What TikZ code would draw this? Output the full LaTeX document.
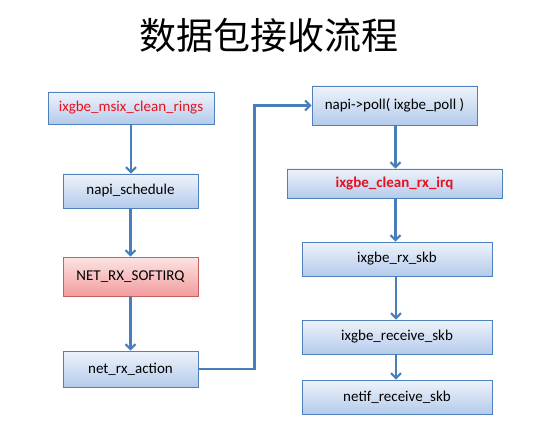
\documentclass[tikz,border=0pt]{standalone}
\usepackage{fontspec}
\setmainfont{Carlito}
\newfontfamily\cjk{Noto Sans CJK SC}
\usetikzlibrary{arrows.meta,shadows}
\definecolor{bord}{HTML}{4F81BD}
\definecolor{arr}{HTML}{4A7EBB}
\definecolor{btop}{HTML}{EEF3FB}
\definecolor{bbot}{HTML}{B4CBEB}
\definecolor{rtop}{HTML}{FCE4E4}
\definecolor{rbot}{HTML}{F29C9C}
\definecolor{rbord}{HTML}{C96060}
\definecolor{redtxt}{HTML}{E8101C}
\begin{document}
\begin{tikzpicture}[x=1pt,y=-1pt,
  fbox/.style={draw=bord,line width=0.9pt,top color=btop,bottom color=bbot,
    minimum width=#1,inner sep=0pt,font=\fontsize{15}{17}\selectfont,
    drop shadow={shadow xshift=1.2pt,shadow yshift=-1.2pt,opacity=0.25}},
  rbox/.style={fbox=#1,draw=rbord,top color=rtop,bottom color=rbot},
  conn/.style={draw=arr,line width=2.6pt,-{Straight Barb[length=5pt,width=10pt,line width=2pt]}}
]
\useasboundingbox (0,0) rectangle (550,436);
\node[font=\cjk\fontsize{37}{40}\selectfont] (title) at (269,35) {数据包接收流程};

\node[fbox=166pt,minimum height=32pt,text=redtxt] (b1) at (131,108) {ixgbe\_msix\_clean\_rings};
\node[fbox=135pt,minimum height=34pt] (b2) at (130.5,191) {napi\_schedule};
\node[rbox=135pt,minimum height=39pt] (b3) at (130.5,276.5) {NET\_RX\_SOFTIRQ};
\node[fbox=135pt,minimum height=36pt] (b4) at (130.5,369) {net\_rx\_action};

\node[fbox=165pt,minimum height=39pt] (b5) at (394.5,105.5) {napi->poll( ixgbe\_poll )};
\node[fbox=215pt,minimum height=29pt,text=redtxt,font=\bfseries\fontsize{15}{17}\selectfont] (b6) at (394.5,183.5) {ixgbe\_clean\_rx\_irq};
\node[fbox=190pt,minimum height=34pt] (b7) at (397,259) {ixgbe\_rx\_skb};
\node[fbox=190pt,minimum height=34pt] (b8) at (397,337) {ixgbe\_receive\_skb};
\node[fbox=190pt,minimum height=34pt] (b9) at (397,397) {netif\_receive\_skb};

\draw[conn] (b1.south) -- (b1.south |- b2.north);
\draw[conn] (b2.south) -- (b2.south |- b3.north);
\draw[conn] (b3.south) -- (b3.south |- b4.north);
\draw[conn] (b4.east) -- ++(56,0) |- (b5.west);
\draw[conn] ([xshift=1pt]b5.south) -- ([xshift=1pt]b5.south |- b6.north);
\draw[conn] ([xshift=1pt]b6.south) -- ([xshift=1pt]b6.south |- b7.north);
\draw[conn] ([xshift=-1pt]b7.south) -- ([xshift=-1pt]b7.south |- b8.north);
\draw[conn] ([xshift=-1pt]b8.south) -- ([xshift=-1pt]b8.south |- b9.north);
\end{tikzpicture}
\end{document}
